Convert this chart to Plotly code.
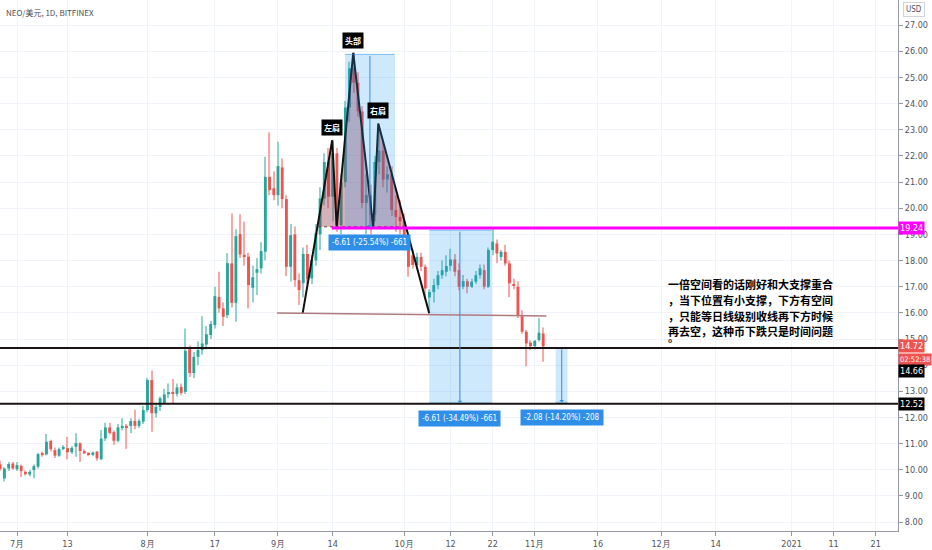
import plotly.graph_objects as go
import pandas as pd

# ---------------- data (NEO/USD daily, Bitfinex) ----------------
START = "2020-06-27"
OPEN = [10.21, 9.67, 10.05, 10.24, 10.02, 10.15, 9.92, 9.82, 9.99, 10.12,
        10.64, 10.59, 11.10, 10.75, 10.54, 10.80, 10.83, 10.67, 10.88, 11.01,
        10.72, 10.63, 10.57, 10.69, 10.40, 11.20, 11.62, 11.44, 11.11, 11.62,
        11.68, 11.68, 11.87, 11.68, 11.84, 12.28, 13.43, 12.16, 12.40, 12.54,
        12.89, 12.97, 12.90, 13.17, 12.98, 14.61, 13.70, 14.32, 14.58, 14.79,
        15.15, 15.53, 16.61, 16.17, 15.91, 17.89, 16.38, 19.01, 18.22, 18.15,
        16.96, 17.53, 17.70, 18.34, 21.20, 20.76, 20.50, 21.56, 20.35, 17.76,
        19.00, 17.25, 17.13, 18.25, 17.32, 18.00, 19.00, 20.37, 21.77, 20.44,
        22.10, 19.35, 21.00, 23.85, 25.35, 24.80, 23.70, 20.20, 20.50, 19.75,
        21.77, 22.20, 21.10, 21.30, 19.93, 19.67, 19.50, 18.80, 18.20, 17.83,
        18.14, 17.76, 16.59, 16.80, 17.06, 17.44, 17.57, 17.80, 18.04, 17.63,
        17.00, 17.21, 17.00, 17.19, 17.44, 17.63, 17.00, 18.40, 18.65, 18.14,
        18.33, 17.89, 17.06, 17.00, 15.88, 15.28, 14.86, 14.73, 14.96, 15.21]
HIGH = [10.35, 10.10, 10.30, 10.30, 10.30, 10.20, 9.98, 10.00, 10.20, 10.65,
        10.70, 11.37, 11.15, 10.85, 10.85, 10.95, 11.26, 10.90, 11.40, 11.05,
        10.78, 10.68, 10.70, 10.72, 11.52, 11.80, 11.80, 11.50, 11.75, 11.97,
        11.75, 11.97, 12.30, 11.95, 12.45, 13.52, 13.80, 12.50, 12.80, 13.10,
        13.30, 13.47, 13.30, 13.30, 15.40, 14.75, 14.50, 14.90, 15.87, 15.50,
        15.70, 17.00, 17.57, 16.40, 18.28, 19.80, 19.20, 19.77, 19.48, 18.30,
        17.80, 18.10, 18.70, 21.97, 22.90, 21.40, 22.54, 21.90, 20.50, 19.40,
        19.30, 17.50, 18.50, 18.60, 18.20, 19.40, 20.80, 22.10, 22.30, 22.60,
        22.30, 21.30, 24.10, 25.60, 25.95, 25.20, 23.90, 21.30, 20.90, 22.00,
        23.20, 22.50, 21.60, 21.60, 20.50, 20.30, 19.80, 18.90, 18.40, 18.30,
        18.30, 17.85, 16.90, 17.30, 17.60, 18.00, 18.20, 18.45, 18.25, 17.90,
        17.45, 17.30, 17.30, 17.60, 17.85, 17.85, 18.50, 19.25, 18.80, 18.40,
        18.60, 18.00, 17.30, 17.20, 16.10, 15.35, 14.95, 14.96, 15.79, 15.44]
LOW = [9.95, 9.55, 9.95, 10.00, 9.95, 9.72, 9.78, 9.75, 9.68, 10.05,
       10.50, 10.55, 10.70, 10.45, 10.50, 10.75, 10.40, 10.60, 10.50, 10.30,
       10.60, 10.52, 10.52, 10.35, 10.38, 11.10, 11.35, 10.95, 11.05, 11.50,
       10.80, 11.40, 11.55, 11.60, 11.75, 12.20, 11.45, 12.00, 12.25, 12.50,
       12.74, 12.51, 12.80, 12.85, 12.90, 13.55, 13.50, 14.00, 14.40, 14.60,
       15.00, 15.40, 16.00, 15.50, 15.80, 16.20, 15.66, 18.10, 17.80, 16.17,
       16.40, 16.68, 17.50, 18.00, 20.50, 20.30, 20.10, 20.00, 17.40, 17.20,
       17.00, 16.30, 16.60, 17.10, 17.10, 17.80, 18.40, 20.10, 20.00, 19.50,
       19.10, 19.00, 20.80, 23.30, 24.40, 23.50, 20.00, 19.00, 19.00, 19.50,
       21.30, 20.80, 20.60, 19.70, 19.10, 19.00, 18.40, 17.38, 17.70, 17.70,
       17.60, 16.50, 16.00, 16.40, 16.90, 17.30, 17.40, 17.60, 17.40, 16.85,
       16.90, 16.75, 16.95, 17.10, 17.30, 16.90, 16.95, 18.20, 17.90, 18.00,
       17.80, 16.60, 16.90, 15.80, 15.20, 13.96, 14.58, 14.60, 14.90, 14.13]
CLOSE = [10.03, 10.05, 10.22, 10.05, 10.18, 9.95, 9.83, 9.92, 10.14, 10.60,
         10.58, 11.07, 10.79, 10.54, 10.79, 10.86, 10.67, 10.84, 11.02, 10.72,
         10.63, 10.57, 10.66, 10.44, 11.19, 11.62, 11.41, 11.11, 11.62, 11.67,
         11.62, 11.86, 11.68, 11.87, 12.28, 13.43, 12.16, 12.40, 12.74, 12.88,
         12.97, 12.90, 13.15, 12.94, 14.55, 13.70, 14.32, 14.58, 14.83, 15.18,
         15.57, 16.64, 16.17, 15.85, 17.90, 16.38, 18.93, 18.23, 18.15, 17.06,
         17.36, 17.67, 18.36, 21.20, 20.69, 20.50, 21.61, 20.35, 17.76, 18.97,
         17.25, 16.87, 18.25, 17.30, 18.02, 19.04, 20.37, 21.77, 20.44, 22.10,
         19.35, 21.00, 23.85, 25.35, 24.80, 23.70, 20.20, 20.50, 19.75, 21.77,
         22.20, 21.10, 21.30, 19.93, 19.67, 19.50, 18.80, 17.76, 17.83, 18.14,
         17.76, 16.93, 16.80, 17.06, 17.44, 17.63, 17.79, 18.04, 17.57, 17.00,
         17.21, 17.00, 17.19, 17.44, 17.70, 17.00, 18.40, 18.72, 18.27, 18.33,
         17.89, 17.13, 17.03, 15.91, 15.28, 14.83, 14.73, 14.93, 15.24, 14.72]
DATES = pd.date_range(START, periods=len(OPEN), freq="D")

X_RANGE = ["2020-06-26 23:00", "2021-01-26 07:00"]
Y_RANGE = [7.66, 27.96]
TICK_DATES = ["2020-07-01", "2020-07-13", "2020-08-01", "2020-08-17", "2020-09-01",
              "2020-09-14", "2020-10-01", "2020-10-12", "2020-10-22", "2020-11-01",
              "2020-11-16", "2020-12-01", "2020-12-14", "2021-01-01", "2021-01-11",
              "2021-01-21"]
TICK_TEXT = ["7月", "13", "8月", "17", "9月", "14", "10月", "12", "22", "11月",
             "16", "12月", "14", "2021", "11", "21"]
Y_TICKS = list(range(8, 28))

# ---------------- drawings ----------------
HS_X = ["2020-09-06 20:40", "2020-09-13 21:00", "2020-09-14 22:30", "2020-09-18 21:00",
        "2020-09-23 15:00", "2020-09-24 19:40", "2020-10-06 22:20"]
HS_Y = [15.98, 22.60, 19.29, 25.94, 19.29, 23.24, 15.98]
HS_LABELS = ["左肩", "头部", "右肩"]
NECK_X = ["2020-09-10 12:00", "2020-10-01 10:00"]
NECK_Y = 19.29
MAGENTA_X0 = "2020-09-13 18:00"
MAGENTA_Y = 19.24
LEVEL_MID = 14.66
LEVEL_LOW = 12.52
LAST_PRICE = 14.72
NECKLINE_X = ["2020-08-31 18:00", "2020-11-03 18:00"]
NECKLINE_Y = [15.99, 15.88]

RANGE_X0 = ["2020-09-16 21:40", "2020-10-06 22:20", "2020-11-05 23:00"]
RANGE_X1 = ["2020-09-28 19:00", "2020-10-21 20:00", "2020-11-08 19:00"]
RANGE_XM = ["2020-09-22 20:00", "2020-10-14 05:00", "2020-11-07 09:40"]
RANGE_TOP = [25.88, 19.16, 14.66]
RANGE_BOT = [19.27, 12.55, 12.58]
RANGE_TEXT = ["-6.61 (-25.54%) -661", "-6.61 (-34.49%) -661", "-2.08 (-14.20%) -208"]

NOTE_LINES = ["一倍空间看的话刚好和大支撑重合",
              "，当下位置有小支撑，下方有空间",
              "，只能等日线级别收线再下方时候",
              "再去空，这种币下跌只是时间问题",
              "。"]
NOTE_PX_Y = [284, 300, 316, 331, 337]

UP, DOWN = "#26a69a", "#ef5350"
UP_W, DOWN_W = "#92d2cc", "#f7a9a7"
NARROW = "Liberation Sans Narrow, DejaVu Sans Condensed, Arial Narrow, sans-serif"
PLOT_H = 531.0

fig = go.Figure()

# wicks
fig.add_trace(go.Bar(
    x=DATES, base=LOW, y=[h - l for h, l in zip(HIGH, LOW)],
    width=0.28 * 86400000,
    marker=dict(color=[UP_W if c >= o else DOWN_W for o, c in zip(OPEN, CLOSE)], line_width=0),
    hoverinfo="skip", showlegend=False))
# bodies
fig.add_trace(go.Bar(
    x=DATES, base=[min(o, c) for o, c in zip(OPEN, CLOSE)],
    y=[max(abs(c - o), 0.04) for o, c in zip(OPEN, CLOSE)],
    width=0.68 * 86400000,
    marker=dict(color=[UP if c >= o else DOWN for o, c in zip(OPEN, CLOSE)], line_width=0),
    hoverinfo="skip", showlegend=False))

# head & shoulders fill triangles
tri = [([NECK_X[0], HS_X[1], HS_X[2]], [NECK_Y, HS_Y[1], HS_Y[2]]),
       ([HS_X[2], HS_X[3], HS_X[4]], [HS_Y[2], HS_Y[3], HS_Y[4]]),
       ([HS_X[4], HS_X[5], NECK_X[1]], [HS_Y[4], HS_Y[5], NECK_Y])]
for tx, ty in tri:
    fig.add_trace(go.Scatter(x=tx, y=ty, fill="toself", mode="none",
                             fillcolor="rgba(150,60,80,0.40)", hoverinfo="skip",
                             showlegend=False))
fig.add_trace(go.Scatter(x=HS_X, y=HS_Y, mode="lines",
                         line=dict(color="#111111", width=2), hoverinfo="skip",
                         showlegend=False))

shapes = []
# price range rectangles
for x0, x1, top, bot in zip(RANGE_X0, RANGE_X1, RANGE_TOP, RANGE_BOT):
    shapes.append(dict(type="rect", xref="x", yref="y", x0=x0, x1=x1, y0=bot, y1=top,
                       fillcolor="rgba(33,150,243,0.22)", line_width=0, layer="above"))
    for yy in (top, bot):
        shapes.append(dict(type="line", xref="x", yref="y", x0=x0, x1=x1, y0=yy, y1=yy,
                           line=dict(color="rgba(33,150,243,0.55)", width=1), layer="above"))
# dotted neck
shapes.append(dict(type="line", xref="x", yref="y", x0=NECK_X[0], x1=NECK_X[1],
                   y0=NECK_Y, y1=NECK_Y, line=dict(color="#6b4040", width=1, dash="dot"),
                   layer="above"))
# neckline (thin rose)
shapes.append(dict(type="line", xref="x", yref="y", x0=NECKLINE_X[0], x1=NECKLINE_X[1],
                   y0=NECKLINE_Y[0], y1=NECKLINE_Y[1],
                   line=dict(color="#b07a7e", width=1.5), layer="above"))
# horizontal levels
shapes.append(dict(type="line", xref="x", yref="y", x0=MAGENTA_X0, x1=X_RANGE[1],
                   y0=MAGENTA_Y, y1=MAGENTA_Y, line=dict(color="#ff00ff", width=3),
                   layer="above"))
for lv in (LEVEL_MID, LEVEL_LOW):
    shapes.append(dict(type="line", xref="paper", yref="y", x0=0, x1=1, y0=lv, y1=lv,
                       line=dict(color="#1c1414", width=2), layer="above"))

ann = []
# arrows + labels of price ranges
for xm, top, bot, txt in zip(RANGE_XM, RANGE_TOP, RANGE_BOT, RANGE_TEXT):
    ann.append(dict(x=xm, y=bot, ax=xm, ay=top, xref="x", yref="y", axref="x", ayref="y",
                    text="", showarrow=True, arrowhead=1, arrowsize=0.8, arrowwidth=1,
                    arrowcolor="#2f8ee8"))
    ann.append(dict(x=xm, y=bot, xref="x", yref="y", text=txt, showarrow=False,
                    yanchor="top", yshift=-7, bgcolor="#2f8ee8", borderpad=3,
                    font=dict(family=NARROW, size=8, color="white")))
# H&S labels
for i, lab in zip((1, 3, 5), HS_LABELS):
    ann.append(dict(x=HS_X[i], y=HS_Y[i], xref="x", yref="y", text="<b>%s</b>" % lab,
                    showarrow=False, yanchor="bottom", yshift=4, bgcolor="#000000",
                    borderpad=2, font=dict(family="Noto Sans CJK SC", size=8, color="white")))
# Chinese note
for line, py in zip(NOTE_LINES, NOTE_PX_Y):
    ann.append(dict(x=666 / 898.0, y=(PLOT_H - py) / PLOT_H, xref="paper", yref="paper",
                    text=line, showarrow=False, xanchor="left", yanchor="middle",
                    font=dict(family="Noto Sans CJK SC", size=11, color="#000000",
                              weight="bold")))
# axis price tags
def tag(text, y, bg, yref="y", size=9):
    return dict(x=1, y=y, xref="paper", yref=yref, text=text, showarrow=False,
                xanchor="left", yanchor="middle", xshift=0, bgcolor=bg, borderpad=1,
                font=dict(family=NARROW, size=size, color="white"))
ann.append(tag("19.24", MAGENTA_Y, "#ff00ff"))
ann.append(tag(f"{LAST_PRICE:.2f}", LAST_PRICE, "#ef5350"))
ann.append(tag("02:52:38", (PLOT_H - 359) / PLOT_H, "#ef5350", yref="paper", size=7.5))
ann.append(tag(f"{LEVEL_MID:.2f}", (PLOT_H - 371) / PLOT_H, "#000000", yref="paper"))
ann.append(tag(f"{LEVEL_LOW:.2f}", LEVEL_LOW, "#000000"))
# header / currency
ann.append(dict(x=4 / 898.0, y=(PLOT_H - 12) / PLOT_H, xref="paper", yref="paper",
                text="NEO/美元, 1D, BITFINEX", showarrow=False, xanchor="left",
                yanchor="middle", font=dict(family="Noto Sans CJK SC", size=8, color="#4a4e58")))
ann.append(dict(x=914 / 898.0, y=(PLOT_H - 10) / PLOT_H, xref="paper", yref="paper",
                text="USD", showarrow=False, xanchor="center", yanchor="middle",
                bordercolor="#d1d4dc", borderwidth=1, borderpad=2, bgcolor="white",
                font=dict(family=NARROW, size=8, color="#50535e")))

fig.update_layout(
    width=932, height=550, margin=dict(l=0, r=34, t=0, b=19),
    paper_bgcolor="white", plot_bgcolor="white", barmode="overlay",
    showlegend=False, shapes=shapes, annotations=ann, hovermode=False,
    xaxis=dict(type="date", range=X_RANGE, tickmode="array", tickvals=TICK_DATES,
               ticktext=TICK_TEXT, showgrid=True, gridcolor="#f0f3fa", gridwidth=1,
               ticks="outside", ticklen=4, tickcolor="#9598a1", showline=True,
               linecolor="#9598a1", linewidth=1, zeroline=False, fixedrange=True,
               tickfont=dict(family=NARROW, size=9, color="#50535e")),
    yaxis=dict(side="right", range=Y_RANGE, tickmode="array", tickvals=Y_TICKS,
               tickformat=".2f", showgrid=True, gridcolor="#f0f3fa", gridwidth=1,
               ticks="outside", ticklen=4, tickcolor="#9598a1", showline=True,
               linecolor="#9598a1", linewidth=1, zeroline=False,
               tickfont=dict(family=NARROW, size=9, color="#50535e")),
)

fig.write_html("out.html", config={"displayModeBar": False},
               post_script="document.body.style.margin='0';document.body.style.overflow='hidden';")
